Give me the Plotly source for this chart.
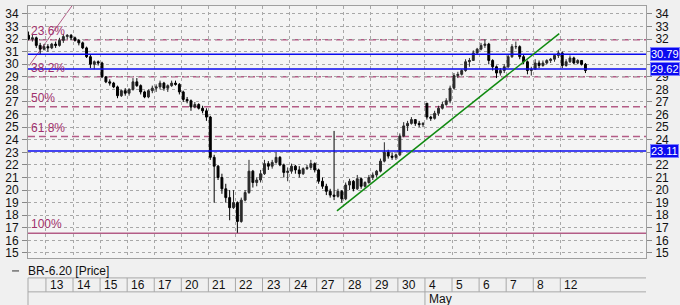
import plotly.graph_objects as go

# ---------------- data ----------------
day_labels = ["13", "14", "15", "16", "17", "20", "21", "22", "23", "24", "27",
              "28", "29", "30", "4", "5", "6", "7", "8", "12"]
month_label = "May"
month_start_day = 14          # index of "4" (May)
first_session_slots = [2, 3, 4, 5, 6]   # partial session before the 13th
bars_per_day = 7

opens = [
    32.3, 32.0, 32.1, 31.5, 31.2,
    31.4, 31.3, 31.6, 31.5, 31.9, 32.2, 32.3,
    32.1, 31.9, 31.7, 31.3, 30.6, 30.0, 30.2,
    30.1, 29.0, 28.6, 28.5, 28.2, 27.5, 27.9,
    27.7, 28.0, 28.6, 28.3, 27.8, 27.4, 27.9,
    28.1, 28.2, 28.5, 28.1, 28.3, 28.5, 28.4,
    27.8, 27.2, 27.1, 26.6, 26.8, 26.5, 26.3,
    25.8, 22.6, 21.9, 21.0, 20.1, 19.4, 18.6,
    19.0, 17.5, 19.2, 19.8, 21.5, 20.6, 20.8,
    21.3, 22.1, 21.9, 22.2, 22.6, 22.0, 21.4,
    21.5, 21.9, 21.6, 21.3, 21.7, 21.8, 22.1,
    21.6, 20.7, 20.3, 19.9, 19.6, 19.5, 19.9,
    19.3, 20.4, 20.7, 20.1, 20.9, 20.3, 20.6,
    21.0, 21.2, 21.5, 22.3, 23.0, 22.7, 22.6,
    22.8, 24.3, 25.1, 25.3, 25.6, 25.3, 25.2,
    26.9, 25.8, 25.7, 26.1, 26.5, 26.8, 27.1,
    28.1, 29.1, 29.2, 29.5, 30.2, 30.3, 30.9,
    31.2, 31.5, 31.6, 30.3, 29.8, 29.3, 29.5,
    29.8, 30.6, 31.4, 31.4, 30.6, 30.2, 29.5,
    29.6, 30.1, 29.9, 30.1, 30.3, 30.4, 30.7,
    30.9, 29.9, 30.2, 30.5, 30.1, 30.3, 30.0,
]
highs = [
    32.6, 32.4, 32.2, 31.7, 31.6,
    31.6, 31.7, 31.8, 32.1, 32.4, 32.4, 32.4,
    32.2, 32.0, 31.8, 31.4, 30.8, 30.3, 30.3,
    30.2, 29.0, 28.8, 28.6, 28.3, 28.0, 28.1,
    28.1, 28.9, 28.9, 28.4, 27.9, 28.0, 28.3,
    28.4, 28.7, 28.6, 28.4, 28.7, 28.7, 28.5,
    27.9, 27.4, 27.2, 27.0, 26.9, 26.7, 26.5,
    25.9, 22.8, 22.0, 21.3, 20.5, 20.0, 20.0,
    19.1, 19.4, 20.0, 22.4, 21.6, 21.0, 21.6,
    22.4, 22.3, 22.4, 23.0, 22.7, 22.1, 21.8,
    22.1, 22.0, 21.9, 21.8, 22.0, 22.4, 22.2,
    21.7, 21.0, 20.5, 20.1, 24.7, 20.1, 20.0,
    20.6, 20.9, 20.8, 21.2, 21.0, 20.7, 21.2,
    21.4, 21.6, 22.5, 23.8, 23.2, 23.0, 22.9,
    24.5, 25.4, 25.5, 25.8, 25.6, 25.5, 25.4,
    26.9, 25.9, 26.3, 26.7, 27.0, 27.3, 28.3,
    29.3, 29.4, 29.6, 30.4, 30.5, 31.1, 31.3,
    31.7, 32.0, 31.7, 30.4, 29.9, 29.7, 30.0,
    30.8, 31.6, 31.8, 31.5, 30.8, 30.3, 29.8,
    30.4, 30.3, 30.3, 30.4, 30.5, 30.8, 31.1,
    31.0, 30.4, 30.7, 30.6, 30.4, 30.3, 30.1,
]
lows = [
    31.9, 31.8, 31.3, 30.8, 31.1,
    31.0, 31.2, 31.3, 31.4, 31.7, 32.0, 31.9,
    31.8, 31.5, 31.2, 30.5, 29.7, 29.6, 29.9,
    28.9, 28.5, 28.3, 28.1, 27.3, 27.4, 27.5,
    27.5, 27.9, 28.2, 27.6, 27.3, 27.3, 27.7,
    27.8, 28.0, 27.9, 27.8, 28.2, 28.3, 27.6,
    27.0, 26.9, 26.3, 26.5, 26.4, 26.1, 25.5,
    22.4, 19.0, 20.8, 19.7, 19.0, 17.6, 18.5,
    16.6, 17.4, 19.1, 19.7, 20.2, 20.3, 20.6,
    21.2, 21.6, 21.7, 22.1, 21.9, 21.0, 20.7,
    21.3, 21.3, 21.0, 21.2, 21.6, 21.6, 21.4,
    20.5, 20.1, 19.6, 19.4, 19.2, 19.4, 19.0,
    19.2, 20.0, 19.9, 20.0, 20.1, 20.2, 20.5,
    20.8, 21.0, 21.4, 22.2, 22.5, 22.4, 22.4,
    22.7, 24.2, 24.7, 25.2, 25.1, 25.0, 25.0,
    25.6, 25.5, 25.6, 25.9, 26.4, 26.7, 26.9,
    28.0, 28.9, 29.1, 29.4, 29.8, 30.3, 30.8,
    31.1, 31.3, 30.0, 29.5, 28.9, 29.1, 29.3,
    29.7, 30.5, 31.2, 30.4, 30.0, 29.2, 29.1,
    29.6, 29.7, 29.8, 30.0, 30.1, 30.2, 30.5,
    29.7, 29.8, 30.1, 30.0, 30.0, 29.9, 29.3,
]
closes = [
    32.0, 32.1, 31.5, 31.2, 31.4,
    31.3, 31.6, 31.5, 31.9, 32.2, 32.3, 32.1,
    31.9, 31.7, 31.3, 30.6, 30.0, 30.2, 30.1,
    29.0, 28.6, 28.5, 28.2, 27.5, 27.9, 27.7,
    28.0, 28.6, 28.3, 27.8, 27.4, 27.9, 28.1,
    28.2, 28.5, 28.1, 28.3, 28.5, 28.4, 27.8,
    27.2, 27.1, 26.6, 26.8, 26.5, 26.3, 25.8,
    22.6, 21.9, 21.0, 20.1, 19.4, 18.6, 19.0,
    17.5, 19.2, 19.8, 21.5, 20.6, 20.8, 21.3,
    22.1, 21.9, 22.2, 22.6, 22.0, 21.4, 21.5,
    21.9, 21.6, 21.3, 21.7, 21.8, 22.1, 21.6,
    20.7, 20.3, 19.9, 19.6, 19.5, 19.9, 19.3,
    20.4, 20.7, 20.1, 20.9, 20.3, 20.6, 21.0,
    21.2, 21.5, 22.3, 23.0, 22.7, 22.6, 22.8,
    24.3, 25.1, 25.3, 25.6, 25.3, 25.2, 25.3,
    25.8, 25.7, 26.1, 26.5, 26.8, 27.1, 28.1,
    29.1, 29.2, 29.5, 30.2, 30.3, 30.9, 31.2,
    31.5, 31.6, 30.3, 29.8, 29.3, 29.5, 29.8,
    30.6, 31.4, 31.4, 30.6, 30.2, 29.5, 29.6,
    30.1, 29.9, 30.1, 30.3, 30.4, 30.7, 30.9,
    29.9, 30.2, 30.5, 30.1, 30.3, 30.0, 29.5,
]

fib_levels = [31.94, 29.00, 26.63, 24.25, 16.56]
fib_labels = ["23.6%", "38.2%", "50%", "61.8%", "100%"]
fib_diag = ([-0.626, 0.957], [29.88, 34.63])
blue_levels = [30.79, 29.62, 23.11]
blue_labels = ["30.79", "29.62", "23.11"]
trend_x = [10.75, 18.96]
trend_y = [18.35, 32.44]
y_ticks = list(range(15, 35))
right_hidden_ticks = [31, 30, 23]   # covered by the price boxes
legend_text = "BR-6.20 [Price]"

# ---------------- positions from session/slot ----------------
xs = []
for s in first_session_slots:
    xs.append(-1 + (s + 0.5) / bars_per_day)
n_rest = len(opens) - len(first_session_slots)
for i in range(n_rest):
    d, j = divmod(i, bars_per_day)
    xs.append(d + (j + 0.5) / bars_per_day)

X_RANGE = [-0.663, 22.165]
Y_RANGE = [14.60, 34.63]
FONT = "Liberation Sans, Arial, sans-serif"
FIB_COLOR = "#b35c86"
FIB_TEXT = "#a0306c"
BLUE = "#0a0af0"

fig = go.Figure()
fig.add_trace(go.Candlestick(
    x=xs, open=opens, high=highs, low=lows, close=closes,
    increasing=dict(line=dict(color="#2a2a2a", width=1), fillcolor="#2a2a2a"),
    decreasing=dict(line=dict(color="#000000", width=1), fillcolor="#000000"),
    whiskerwidth=0, showlegend=False, hoverinfo="skip",
))
# invisible trace so the right-hand axis is drawn
fig.add_trace(go.Scatter(x=[X_RANGE[0]], y=[Y_RANGE[0]], yaxis="y2",
                         mode="markers", marker=dict(opacity=0),
                         showlegend=False, hoverinfo="skip"))

shapes = []
for lv in fib_levels[:-1]:
    shapes.append(dict(type="line", xref="paper", x0=0, x1=1, yref="y", y0=lv, y1=lv,
                       line=dict(color=FIB_COLOR, width=1.5, dash="7px,4px"), layer="below"))
shapes.append(dict(type="line", xref="paper", x0=0, x1=1, yref="y",
                   y0=fib_levels[-1], y1=fib_levels[-1],
                   line=dict(color=FIB_COLOR, width=1.5), layer="below"))
shapes.append(dict(type="line", xref="x", yref="y",
                   x0=fib_diag[0][0], x1=fib_diag[0][1], y0=fib_diag[1][0], y1=fib_diag[1][1],
                   line=dict(color=FIB_COLOR, width=1), layer="below"))
for lv in blue_levels:
    shapes.append(dict(type="line", xref="paper", x0=0, x1=1, yref="y", y0=lv, y1=lv,
                       line=dict(color=BLUE, width=1.6), layer="above"))
shapes.append(dict(type="line", xref="x", yref="y", x0=trend_x[0], x1=trend_x[1],
                   y0=trend_y[0], y1=trend_y[1],
                   line=dict(color="#108a10", width=1.5), layer="above"))

# date header (below the plot)
def py(p):  # pixel row -> paper y
    return (258 - p) / 253.0

hdr_col = "#a8a8a8"
shapes.append(dict(type="line", xref="paper", x0=0, x1=1, yref="paper", y0=py(278), y1=py(278),
                   line=dict(color=hdr_col, width=1)))
shapes.append(dict(type="line", xref="paper", x0=0, x1=1, yref="paper", y0=py(292), y1=py(292),
                   line=dict(color=hdr_col, width=1)))
shapes.append(dict(type="line", xref="paper", x0=0, x1=0, yref="paper", y0=py(278), y1=py(306),
                   line=dict(color=hdr_col, width=1)))
for i in range(len(day_labels)):
    shapes.append(dict(type="line", xref="x", x0=i, x1=i, yref="paper", y0=py(278), y1=py(292),
                       line=dict(color=hdr_col, width=1)))
shapes.append(dict(type="line", xref="x", x0=month_start_day, x1=month_start_day, yref="paper",
                   y0=py(292), y1=py(306), line=dict(color=hdr_col, width=1)))
# legend dash
shapes.append(dict(type="line", xref="paper", x0=(10 - 26) / 620, x1=(17 - 26) / 620,
                   yref="paper", y0=py(271), y1=py(271), line=dict(color="#333", width=1)))

annotations = []
for lv, lab in zip(fib_levels, fib_labels):
    annotations.append(dict(text=lab, xref="paper", x=0.002, xanchor="left", yref="y", y=lv,
                            yanchor="bottom", yshift=0, showarrow=False,
                            font=dict(family=FONT, size=12, color=FIB_TEXT)))
for lv, lab in zip(blue_levels, blue_labels):
    annotations.append(dict(text=lab, xref="paper", x=1, xanchor="left", xshift=4,
                            yref="y", y=lv, yanchor="middle", showarrow=False,
                            bgcolor=BLUE, borderpad=0, bordercolor="#7f7fff", borderwidth=1,
                            font=dict(family=FONT, size=11, color="white")))
for i, lab in enumerate(day_labels):
    annotations.append(dict(text=lab, xref="x", x=i, xanchor="left", xshift=2,
                            yref="paper", y=py(285), yanchor="middle", showarrow=False,
                            font=dict(family=FONT, size=12, color="#111")))
annotations.append(dict(text=month_label, xref="x", x=month_start_day, xanchor="left", xshift=2,
                        yref="paper", y=py(299), yanchor="middle", showarrow=False,
                        font=dict(family=FONT, size=12, color="#111")))
annotations.append(dict(text=legend_text, xref="paper", x=(24 - 26) / 620, xanchor="left",
                        yref="paper", y=py(271), yanchor="middle", showarrow=False,
                        font=dict(family=FONT, size=12, color="#111")))

axis_common = dict(range=Y_RANGE, tickvals=y_ticks, ticks="outside", ticklen=5,
                   tickcolor="#888", tickfont=dict(family=FONT, size=12, color="#111"),
                   fixedrange=True, zeroline=False)
right_text = ["" if t in right_hidden_ticks else str(t) for t in y_ticks]
fig.update_layout(
    width=680, height=305,
    margin=dict(l=26, r=34, t=5, b=47),
    paper_bgcolor="#f0f0f0", plot_bgcolor="#f4f4f4",
    showlegend=False,
    xaxis=dict(range=X_RANGE, tickvals=list(range(len(day_labels))), showticklabels=False,
               showgrid=True, gridcolor="#a8a8a8", griddash="dot", gridwidth=1,
               showline=True, linecolor="#a0a0a0", mirror=True, zeroline=False,
               rangeslider=dict(visible=False), ticks=""),
    yaxis=dict(side="left", showgrid=True, gridcolor="#a8a8a8", griddash="dot", gridwidth=1,
               showline=True, linecolor="#a0a0a0", mirror=True, ticklabelstandoff=1,
               **axis_common),
    yaxis2=dict(side="right", overlaying="y", showgrid=False, showline=False,
                ticklabelstandoff=1, ticktext=right_text, **axis_common),
    shapes=shapes, annotations=annotations,
)

fig.write_html("out.html", config=dict(displayModeBar=False))
